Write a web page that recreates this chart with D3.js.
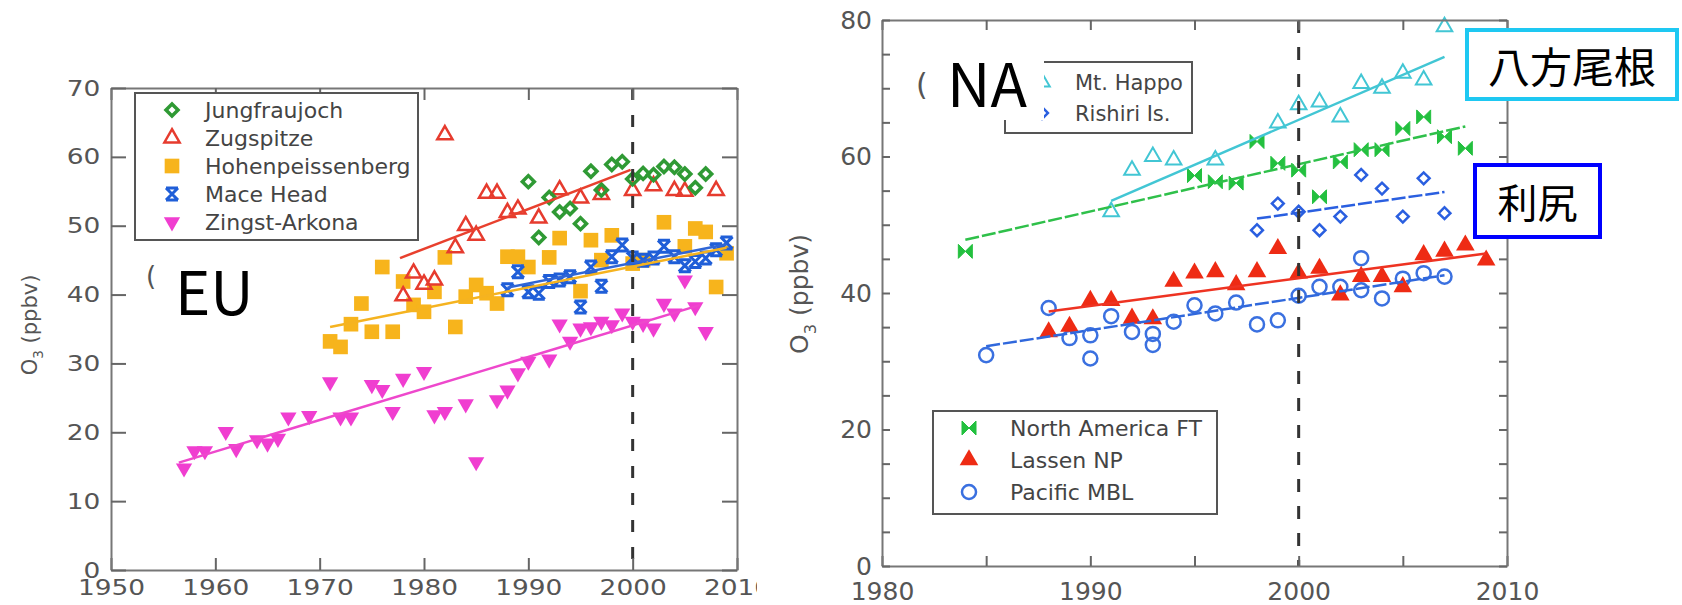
<!DOCTYPE html>
<html>
<head>
<meta charset="utf-8">
<script src="https://cdn.jsdelivr.net/npm/d3@7"></script>
<style>
  body { margin: 0; background: #fff; }
  svg  { display: block; }
</style>
</head>
<body>
<svg id="chart" width="1682" height="605"></svg>
<script>
/* ---- data : [year, O3 ppbv] ------------------------------------ */
const jungfraujoch = [[1990,56.4],[1991,48.3],[1992,54.1],[1993,52.0],[1994,52.5],[1995,50.3],[1996,57.9],[1997,55.2],[1998,58.9],[1999,59.3],[2000,56.8],[2001,57.6],[2002,57.4],[2003,58.6],[2004,58.5],[2005,57.5],[2006,55.5],[2007,57.5]];
const zugspitze = [[1978,39.8],[1979,43.1],[1980,41.5],[1981,42.1],[1982,63.2],[1983,46.8],[1984,50.0],[1985,48.6],[1986,54.7],[1987,54.7],[1988,51.9],[1989,52.4],[1991,51.1],[1993,55.2],[1995,54.0],[1997,54.5],[2000,55.1],[2002,55.8],[2004,55.1],[2005,55.0],[2008,55.1]];
const hohenpeissenberg = [[1971,33.2],[1972,32.4],[1973,35.7],[1974,38.7],[1975,34.6],[1976,44.0],[1977,34.6],[1978,41.9],[1979,38.5],[1980,37.5],[1981,40.4],[1982,45.4],[1983,35.3],[1984,39.7],[1985,41.4],[1986,40.2],[1987,38.7],[1988,45.5],[1989,45.5],[1990,44.0],[1992,45.4],[1993,48.2],[1995,40.5],[1996,47.9],[1997,45.0],[1998,48.6],[2000,44.5],[2001,45.0],[2003,50.5],[2005,47.0],[2006,49.6],[2007,49.1],[2008,41.1],[2009,46.0]];
const maceHead = [[1988,40.7],[1989,43.3],[1990,40.4],[1991,40.2],[1992,41.9],[1993,42.1],[1994,42.6],[1995,38.2],[1996,44.0],[1997,41.2],[1998,45.5],[1999,47.2],[2000,45.3],[2001,45.0],[2002,45.3],[2003,47.0],[2004,45.5],[2005,44.2],[2006,44.8],[2007,45.3],[2008,46.5],[2009,47.5]];
const zingstArkona = [[1957,14.8],[1958,17.3],[1959,17.3],[1961,20.1],[1962,17.6],[1964,18.9],[1965,18.4],[1966,19.1],[1967,22.2],[1969,22.4],[1971,27.3],[1972,22.2],[1973,22.2],[1975,26.9],[1976,26.2],[1977,23.0],[1978,27.8],[1980,28.8],[1981,22.5],[1982,23.0],[1984,24.1],[1985,15.7],[1987,24.7],[1988,26.1],[1989,28.6],[1990,30.3],[1992,30.6],[1993,35.7],[1994,33.2],[1995,35.1],[1996,35.3],[1997,36.1],[1998,35.6],[1999,37.3],[2000,36.1],[2001,35.8],[2002,35.1],[2003,38.7],[2004,37.3],[2005,42.1],[2006,38.2],[2007,34.6]];

const mtHappo = [[1991,51.9],[1992,58.0],[1993,60.0],[1994,59.5],[1996,59.5],[1999,64.9],[2000,67.6],[2001,68.0],[2002,65.8],[2003,70.7],[2004,70.0],[2005,72.2],[2006,71.2],[2007,79.0]];
const rishiri = [[1998,49.2],[1999,53.1],[2000,51.9],[2001,49.2],[2002,51.2],[2003,57.3],[2004,55.3],[2005,51.2],[2006,56.8],[2007,51.7]];
const northAmericaFT = [[1984,46.1],[1995,57.2],[1996,56.3],[1997,56.1],[1998,62.2],[1999,59.0],[2000,58.0],[2001,54.1],[2002,59.2],[2003,61.0],[2004,61.0],[2005,64.1],[2006,65.8],[2007,62.9],[2008,61.2]];
const lassenNP = [[1988,34.3],[1989,35.1],[1990,38.9],[1991,38.9],[1992,36.3],[1993,36.2],[1994,41.7],[1995,42.9],[1996,43.1],[1997,41.2],[1998,43.1],[1999,46.5],[2000,42.9],[2001,43.6],[2002,39.7],[2003,42.4],[2004,42.4],[2005,40.9],[2006,45.6],[2007,46.1],[2008,47.0],[2009,44.8]];
const pacificMBL = [[1985,30.9],[1988,37.8],[1989,33.4],[1990,33.8],[1990,30.4],[1991,36.6],[1992,34.3],[1993,34.0],[1993,32.4],[1994,35.8],[1995,38.2],[1996,37.0],[1997,38.6],[1998,35.4],[1999,36.0],[2000,39.6],[2001,40.9],[2002,40.9],[2003,45.1],[2003,40.4],[2004,39.2],[2005,42.1],[2006,42.9],[2007,42.4]];

/* ---- trend lines : start / end -------------------------------- */
const zugspitzeTrend  = [[1977.7,45.3],[1999.8,58.1]];
const hohenTrend      = [[1971,35.3],[2009,46.8]];
const maceTrend       = [[1988,41.0],[2009,47.3]];
const zingstTrend     = [[1956.5,15.6],[2006.5,38.5]];
const happoTrend      = [[1991,53.5],[2007,74.6]];
const naftTrend       = [[1984,47.8],[2008,64.4]];
const rishiriTrend    = [[1998,50.9],[2007,54.8]];
const lassenTrend     = [[1988,37.3],[2009,45.8]];
const pacificTrend    = [[1985,32.2],[2007,42.6]];

/* ---- ticks ----------------------------------------------------- */
const euYearTicks = [1950,1960,1970,1980,1990,2000,2010];
const euO3Ticks   = [0,10,20,30,40,50,60,70];
const naYearTicks = [1980,1985,1990,1995,2000,2005,2010];
const naYearLabels = [1980,1990,2000,2010];
const naO3Ticks   = [0,5,10,15,20,25,30,35,40,45,50,55,60,65,70,75,80];
const naO3Labels  = [0,20,40,60,80];

const FONT = "'DejaVu Sans', Verdana, sans-serif";
const JP   = "'Noto Sans CJK JP', sans-serif";
const svg  = d3.select("#chart");

/* ---- marker shapes --------------------------------------------- */
const xbar   = r => `M${-r},${-r}H${r}M${-r},${r}H${r}M${-r},${-r}L${r},${r}M${r},${-r}L${-r},${r}`;
const bowtie = r => `M${-r},${-r}L0,0L${-r},${r}ZM${r},${-r}L0,0L${r},${r}Z`;
const shapes = {
  diamondOpen: { d: d3.symbol(d3.symbolSquare, 72)(),   fill: false, sw: 3.5, rot: 45 },
  triOpen:     { d: d3.symbol(d3.symbolTriangle, 100)(), fill: false, sw: 2.5 },
  square:      { d: d3.symbol(d3.symbolSquare, 215)(),   fill: true },
  xbar:        { d: xbar(6),                             fill: false, sw: 3 },
  triDown:     { d: d3.symbol(d3.symbolTriangle, 115)(), fill: true, rot: 180 },
  happoTri:    { d: d3.symbol(d3.symbolTriangle, 105)(), fill: false, sw: 2 },
  rishiriDia:  { d: d3.symbol(d3.symbolSquare, 70)(),    fill: false, sw: 2.5, rot: 45 },
  bowtie:      { d: bowtie(7),                           fill: true, sw: 1 },
  triFill:     { d: d3.symbol(d3.symbolTriangle, 150)(), fill: true },
  circleOpen:  { d: d3.symbol(d3.symbolCircle, 155)(),   fill: false, sw: 2.5 }
};

function drawMarker(sel, shape, colour) {
  const s = shapes[shape];
  sel.attr("d", s.d)
    .attr("fill", s.fill ? colour : "none")
    .attr("stroke", colour)
    .attr("stroke-width", s.sw || 0);
  return sel;
}

/* ---- frame with inward ticks on four sides ---------------------- */
function frame(g, x, y, o) {
  const [y0, y1] = y.range(), [x0, x1] = x.range();
  g.append("g").attr("transform", `translate(0,${y0})`)
    .call(d3.axisBottom(x).tickValues(o.xTicks).tickSize(-o.xTickLen).tickSizeOuter(0)
      .tickPadding(o.padX).tickFormat(d => o.xLabels.includes(d) ? d : ""));
  g.append("g").attr("transform", `translate(0,${y1})`)
    .call(d3.axisTop(x).tickValues(o.xTicks).tickSize(-o.xTickLen).tickSizeOuter(0).tickFormat(""));
  g.append("g").attr("transform", `translate(${x0},0)`)
    .call(d3.axisLeft(y).tickValues(o.yTicks).tickSize(-o.yTickLen).tickSizeOuter(0)
      .tickPadding(o.padY).tickFormat(d => o.yLabels.includes(d) ? d : ""));
  g.append("g").attr("transform", `translate(${x1},0)`)
    .call(d3.axisRight(y).tickValues(o.yTicks).tickSize(-o.yTickLen).tickSizeOuter(0).tickFormat(""));
  g.selectAll(".domain").attr("stroke", "#777").attr("stroke-width", 2);
  g.selectAll(".tick line").attr("stroke", "#666").attr("stroke-width", 2);
  g.selectAll(".tick text")
    .attr("font-family", FONT).attr("font-size", o.fontSize).attr("fill", "#555")
    .attr("transform", `scale(${o.stretch},1)`);
}

function yTitle(g, tx, ty, size) {
  const t = g.append("text")
    .attr("transform", `translate(${tx},${ty}) rotate(-90)`)
    .attr("text-anchor", "middle")
    .attr("font-family", FONT).attr("font-size", size).attr("fill", "#555");
  t.append("tspan").text("O");
  t.append("tspan").attr("font-size", size * 0.65).attr("dy", size * 0.3).text("3");
  t.append("tspan").attr("dy", -size * 0.3).text(" (ppbv)");
}

function legend(g, items, o) {
  g.append("rect")
    .attr("x", o.x).attr("y", o.y).attr("width", o.w).attr("height", o.h)
    .attr("fill", "#fff").attr("stroke", "#555").attr("stroke-width", 2);
  items.forEach((s, i) => {
    const cy = o.rowY + i * o.step;
    drawMarker(g.append("path"), s.shape, s.colour)
      .attr("transform", `translate(${o.symX},${cy}) rotate(${shapes[s.shape].rot || 0})`);
    g.append("text")
      .attr("x", o.textX).attr("y", cy).attr("dy", "0.36em")
      .attr("font-family", FONT).attr("font-size", o.fontSize).attr("fill", "#444")
      .text(s.name);
  });
}

function plotSeries(g, x, y, series, trends) {
  series.forEach(s => {
    drawMarker(g.append("g").selectAll("path").data(s.data).join("path"), s.shape, s.colour)
      .attr("transform", d => `translate(${x(d[0])},${y(d[1])}) rotate(${shapes[s.shape].rot || 0})`);
  });
  const line = d3.line().x(d => x(d[0])).y(d => y(d[1]));
  trends.forEach(t => {
    g.append("path").datum(t.data)
      .attr("d", line).attr("fill", "none")
      .attr("stroke", t.colour).attr("stroke-width", 2.5)
      .attr("stroke-dasharray", t.dash || null);
  });
}

/* ================================================================
   Europe panel
   ================================================================ */
svg.append("clipPath").attr("id", "euClip")
  .append("rect").attr("x", 0).attr("y", 0).attr("width", 757).attr("height", 605);
const eu = svg.append("g").attr("clip-path", "url(#euClip)");
const xEU = d3.scaleLinear([1950, 2010], [111, 737]);
const yEU = d3.scaleLinear([0, 70], [570, 88]);

const euSeries = [
  { name: "Jungfraujoch",     data: jungfraujoch,     shape: "diamondOpen", colour: "#2f9a34" },
  { name: "Zugspitze",        data: zugspitze,        shape: "triOpen",     colour: "#e63b2e" },
  { name: "Hohenpeissenberg", data: hohenpeissenberg, shape: "square",      colour: "#f7b41c" },
  { name: "Mace Head",        data: maceHead,         shape: "xbar",        colour: "#1f5ed8" },
  { name: "Zingst-Arkona",    data: zingstArkona,     shape: "triDown",     colour: "#f03ed0" }
];
const euDrawOrder = [euSeries[2], euSeries[4], euSeries[3], euSeries[1], euSeries[0]];

plotSeries(eu, xEU, yEU, euDrawOrder, [
  { data: hohenTrend,     colour: "#f5b320" },
  { data: maceTrend,      colour: "#2f66d6" },
  { data: zingstTrend,    colour: "#ee48cc" },
  { data: zugspitzeTrend, colour: "#e8402e" }
]);

eu.append("line")
  .attr("x1", xEU(2000)).attr("x2", xEU(2000)).attr("y1", yEU(70)).attr("y2", yEU(0))
  .attr("stroke", "#333").attr("stroke-width", 3).attr("stroke-dasharray", "12,15");

frame(eu, xEU, yEU, {
  xTicks: euYearTicks, xLabels: euYearTicks, yTicks: euO3Ticks, yLabels: euO3Ticks,
  xTickLen: 12, yTickLen: 15, padX: 9, padY: 9, fontSize: 22, stretch: 1.2
});
yTitle(eu, 37, 325, 21);

legend(eu, euSeries, {
  x: 135, y: 93, w: 283, h: 147, rowY: 110, step: 28, symX: 172, textX: 205, fontSize: 22
});

/* label "(a)" covered by an "EU" tag */
eu.append("text").attr("x", 146).attr("y", 285)
  .attr("font-family", FONT).attr("font-size", 26).attr("fill", "#555").text("(");
eu.append("rect").attr("x", 163).attr("y", 255).attr("width", 100).attr("height", 72).attr("fill", "#fff");
eu.append("text").attr("x", 175).attr("y", 315)
  .attr("font-family", JP).attr("font-size", 60).attr("fill", "#000").text("EU");

/* ================================================================
   North America / Japan panel
   ================================================================ */
const na = svg.append("g");
const xNA = d3.scaleLinear([1980, 2010], [882, 1507]);
const yNA = d3.scaleLinear([0, 80], [566, 20]);

const naTopLegend = [
  { name: "Mt. Happo",   data: mtHappo, shape: "happoTri",   colour: "#42c6d4" },
  { name: "Rishiri Is.", data: rishiri, shape: "rishiriDia", colour: "#2a5fe0" }
];
const naBottomLegend = [
  { name: "North America FT", data: northAmericaFT, shape: "bowtie",     colour: "#23c03f" },
  { name: "Lassen NP",        data: lassenNP,       shape: "triFill",    colour: "#ee2b14" },
  { name: "Pacific MBL",      data: pacificMBL,     shape: "circleOpen", colour: "#3a70e0" }
];

plotSeries(na, xNA, yNA,
  [naBottomLegend[2], naBottomLegend[1], naTopLegend[1], naBottomLegend[0], naTopLegend[0]], [
  { data: pacificTrend, colour: "#3068dc", dash: "14,3" },
  { data: lassenTrend,  colour: "#ee3322" },
  { data: rishiriTrend, colour: "#2a5fe0", dash: "14,3" },
  { data: naftTrend,    colour: "#2fc04a", dash: "14,3" },
  { data: happoTrend,   colour: "#42c6d4" }
]);

na.append("line")
  .attr("x1", xNA(2000)).attr("x2", xNA(2000)).attr("y1", yNA(80)).attr("y2", yNA(0))
  .attr("stroke", "#333").attr("stroke-width", 3).attr("stroke-dasharray", "13,14");

frame(na, xNA, yNA, {
  xTicks: naYearTicks, xLabels: naYearLabels, yTicks: naO3Ticks, yLabels: naO3Labels,
  xTickLen: 10, yTickLen: 8, padX: 16, padY: 10, fontSize: 25, stretch: 1
});
yTitle(na, 808, 294, 25);

legend(na, naTopLegend, {
  x: 1005, y: 62, w: 187, h: 71, rowY: 82, step: 31, symX: 1042, textX: 1075, fontSize: 21
});
legend(na, naBottomLegend, {
  x: 933, y: 411, w: 284, h: 103, rowY: 428, step: 32, symX: 969, textX: 1010, fontSize: 22
});

/* label "(b)" covered by an "NA" tag */
na.append("text").attr("x", 916).attr("y", 95)
  .attr("font-family", FONT).attr("font-size", 30).attr("fill", "#555").text("(");
na.append("rect").attr("x", 938).attr("y", 55).attr("width", 106).attr("height", 65).attr("fill", "#fff");
na.append("text").attr("x", 947).attr("y", 107)
  .attr("font-family", JP).attr("font-size", 60).attr("fill", "#000").text("NA");

/* Japanese site tags */
const tags = [
  { text: "八方尾根", x: 1467, y: 30,  w: 210, h: 69, colour: "#1ec8f2", size: 42 },
  { text: "利尻",     x: 1475, y: 165, w: 125, h: 72, colour: "#0000ff", size: 40 }
];
tags.forEach(t => {
  na.append("rect").attr("x", t.x).attr("y", t.y).attr("width", t.w).attr("height", t.h)
    .attr("fill", "#fff").attr("stroke", t.colour).attr("stroke-width", 4);
  na.append("text").attr("x", t.x + t.w / 2).attr("y", t.y + t.h / 2)
    .attr("text-anchor", "middle").attr("dominant-baseline", "central")
    .attr("font-family", JP).attr("font-size", t.size).attr("fill", "#000").text(t.text);
});
</script>
</body>
</html>
